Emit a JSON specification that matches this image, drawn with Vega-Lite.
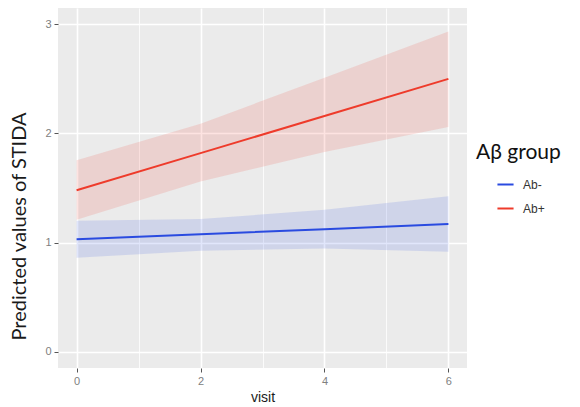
{
  "$schema": "https://vega.github.io/schema/vega-lite/v6.json",
  "autosize": {"type": "none"},
  "padding": {"left": 58, "top": 8, "right": 113, "bottom": 39},
  "width": 409,
  "height": 360,
  "background": "#FFFFFF",
  "config": {
    "view": {"fill": "#EBEBEB", "stroke": null},
    "axis": {
      "domain": false,
      "gridColor": "#FFFFFF",
      "tickColor": "#555555",
      "tickSize": 4,
      "labelColor": "#808080",
      "labelFontSize": 11,
      "labelFont": "Liberation Sans",
      "titleFont": "Liberation Sans",
      "titleFontWeight": "normal",
      "titleColor": "#1A1A1A"
    },
    "legend": {
      "orient": "none",
      "legendX": 418,
      "legendY": 134,
      "titleFont": "Lato",
      "titleFontSize": 21,
      "titleFontWeight": "normal",
      "titleColor": "#111111",
      "titlePadding": 12,
      "labelFont": "Liberation Sans",
      "labelFontSize": 12,
      "labelColor": "#333333",
      "symbolType": "stroke",
      "symbolStrokeWidth": 2,
      "symbolSize": 260,
      "symbolOffset": 20,
      "labelOffset": 8,
      "rowPadding": 8
    }
  },
  "data": {
    "values": [
      {"visit": 0, "group": "Ab-", "fit": 1.03, "lower": 0.86, "upper": 1.2},
      {"visit": 2, "group": "Ab-", "fit": 1.077, "lower": 0.925, "upper": 1.215},
      {"visit": 4, "group": "Ab-", "fit": 1.123, "lower": 0.945, "upper": 1.3},
      {"visit": 6, "group": "Ab-", "fit": 1.17, "lower": 0.915, "upper": 1.425},
      {"visit": 0, "group": "Ab+", "fit": 1.48, "lower": 1.21, "upper": 1.755},
      {"visit": 2, "group": "Ab+", "fit": 1.82, "lower": 1.56, "upper": 2.09},
      {"visit": 4, "group": "Ab+", "fit": 2.16, "lower": 1.83, "upper": 2.51},
      {"visit": 6, "group": "Ab+", "fit": 2.5, "lower": 2.06, "upper": 2.935}
    ]
  },
  "encoding": {
    "x": {
      "field": "visit",
      "type": "quantitative",
      "scale": {"domain": [-0.3, 6.3], "nice": false, "zero": false},
      "axis": {
        "values": [0, 1, 2, 3, 4, 5, 6],
        "format": "d",
        "labelExpr": "datum.value % 2 === 0 ? datum.label : ''",
        "tickOpacity": {"condition": {"test": "datum.value % 2 === 0", "value": 1}, "value": 0},
        "gridWidth": {"condition": {"test": "datum.value % 2 === 0", "value": 1.6}, "value": 0.8},
        "title": "visit",
        "titleFontSize": 14,
        "titlePadding": 4,
        "labelPadding": 3
      }
    },
    "color": {
      "field": "group",
      "type": "nominal",
      "title": "Aβ group",
      "scale": {"domain": ["Ab-", "Ab+"], "range": ["#2A4BE0", "#EE3B2B"]}
    }
  },
  "layer": [
    {
      "mark": {"type": "area", "fillOpacity": 0.14},
      "encoding": {
        "y": {"field": "lower", "type": "quantitative"},
        "y2": {"field": "upper"}
      }
    },
    {
      "mark": {"type": "line", "strokeWidth": 2},
      "encoding": {
        "y": {
          "field": "fit",
          "type": "quantitative",
          "scale": {"domain": [-0.15, 3.15], "nice": false, "zero": false},
          "axis": {
            "values": [0, 0.5, 1, 1.5, 2, 2.5, 3],
            "format": "d",
            "labelExpr": "datum.value % 1 === 0 ? datum.label : ''",
            "tickOpacity": {"condition": {"test": "datum.value % 1 === 0", "value": 1}, "value": 0},
            "gridWidth": {"condition": {"test": "datum.value % 1 === 0", "value": 1.6}, "value": 0.8},
            "title": "Predicted values of STIDA",
            "titleFont": "Lato",
            "titleFontSize": 20,
            "titlePadding": 15,
            "titleY": 218,
            "labelPadding": 3
          }
        }
      }
    }
  ]
}
